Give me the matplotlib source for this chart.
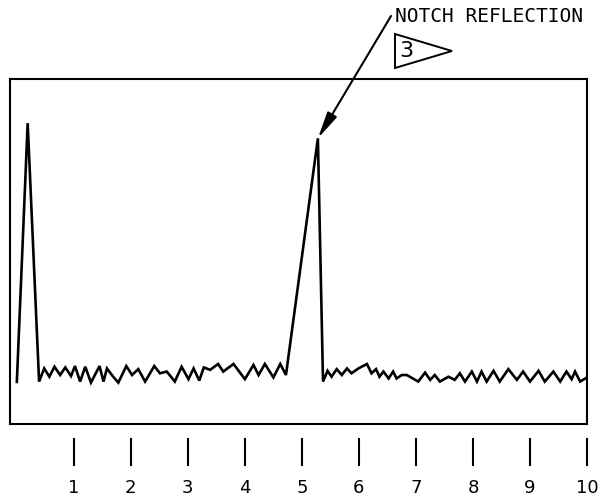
import matplotlib
matplotlib.use("Agg")
import matplotlib.pyplot as plt
from matplotlib.patches import Polygon

# Trace: distance (scale units) and amplitude (% of screen height)
distance = [0.0, 0.19, 0.39,
            0.48, 0.57, 0.66, 0.76, 0.85, 0.95, 1.02, 1.11, 1.20, 1.30,
            1.45, 1.52, 1.58, 1.69, 1.78, 1.92, 2.02, 2.13, 2.25, 2.41,
            2.51, 2.63, 2.77, 2.89, 3.01, 3.10, 3.20, 3.28, 3.39, 3.53,
            3.62, 3.80, 3.90, 4.00, 4.15, 4.24, 4.35, 4.50, 4.62, 4.72,
            5.28, 5.37,
            5.45, 5.52, 5.61, 5.70, 5.79, 5.87, 5.99, 6.14, 6.22, 6.30,
            6.36, 6.43, 6.52, 6.60, 6.66, 6.75, 6.84, 7.04, 7.16, 7.25,
            7.33, 7.42, 7.57, 7.68, 7.77, 7.86, 7.98, 8.07, 8.15, 8.24,
            8.36, 8.47, 8.62, 8.77, 8.88, 9.00, 9.15, 9.26, 9.41, 9.53,
            9.64, 9.73, 9.79, 9.88, 9.97]
amplitude = [12.2, 87.2, 12.3,
             16.1, 13.7, 16.6, 14.2, 16.4, 13.9, 16.8, 12.3, 16.6, 12.0,
             16.8, 12.3, 16.1, 13.7, 12.0, 16.8, 14.2, 15.9, 12.3, 16.8,
             14.7, 15.2, 12.3, 16.6, 13.0, 16.1, 12.6, 16.4, 15.7, 17.4,
             15.2, 17.4, 15.2, 13.0, 17.1, 14.2, 17.4, 13.5, 17.4, 14.2,
             82.8, 12.3,
             15.4, 13.7, 15.9, 14.2, 16.1, 14.7, 16.1, 17.4, 14.7, 15.9,
             13.7, 15.2, 13.2, 15.2, 13.2, 14.2, 14.2, 12.3, 14.9, 12.8,
             14.2, 12.3, 13.7, 12.8, 14.7, 12.3, 15.2, 12.3, 15.2, 12.3,
             15.4, 12.3, 15.9, 12.8, 15.2, 12.3, 15.4, 12.3, 15.2, 12.3,
             15.2, 13.0, 15.2, 12.3, 13.2]

tick_values = [1, 2, 3, 4, 5, 6, 7, 8, 9, 10]
tick_labels = ["1", "2", "3", "4", "5", "6", "7", "8", "9", "10"]

annotation_text = "NOTCH REFLECTION"
flag_text = "3"
notch_point = (5.28, 82.8)

W, H = 600, 500
fig = plt.figure(figsize=(W / 100, H / 100), dpi=100)
ax = fig.add_axes([10 / W, 1 - 424 / H, 577 / W, 345 / H])

ax.plot(distance, amplitude, color="black", lw=1.9, solid_joinstyle="miter")
ax.set_xlim(-0.12, 10.0)
ax.set_ylim(0, 100)
ax.set_xticks([])
ax.set_yticks([])
for s in ax.spines.values():
    s.set_linewidth(1.5)

sec = ax.secondary_xaxis(-0.042)
sec.set_xticks(tick_values)
sec.set_xticklabels(tick_labels, fontfamily="DejaVu Sans", fontsize=13)
sec.tick_params(direction="out", length=20, width=1.5, pad=9)
sec.spines["bottom"].set_visible(False)

# Annotation
fig.text(395 / W, 1 - 17 / H, annotation_text, fontfamily="DejaVu Sans Mono",
         fontsize=14, ha="left", va="center")
ax.annotate("", xy=notch_point, xycoords="data",
            xytext=(391 / W, 1 - 16 / H), textcoords="figure fraction",
            arrowprops=dict(arrowstyle="-|>,head_length=0.8,head_width=0.16",
                            lw=1.5, color="black", shrinkA=0, shrinkB=0,
                            mutation_scale=20),
            annotation_clip=False)

flag = Polygon([(395 / W, 1 - 34 / H), (395 / W, 1 - 68 / H), (452 / W, 1 - 51 / H)],
               closed=True, fill=False, edgecolor="black", lw=1.4,
               transform=fig.transFigure)
fig.add_artist(flag)
fig.text(399 / W, 1 - 51 / H, flag_text, fontfamily="DejaVu Sans",
         fontsize=16, ha="left", va="center")

fig.savefig("out.png", dpi=100, facecolor="white")
